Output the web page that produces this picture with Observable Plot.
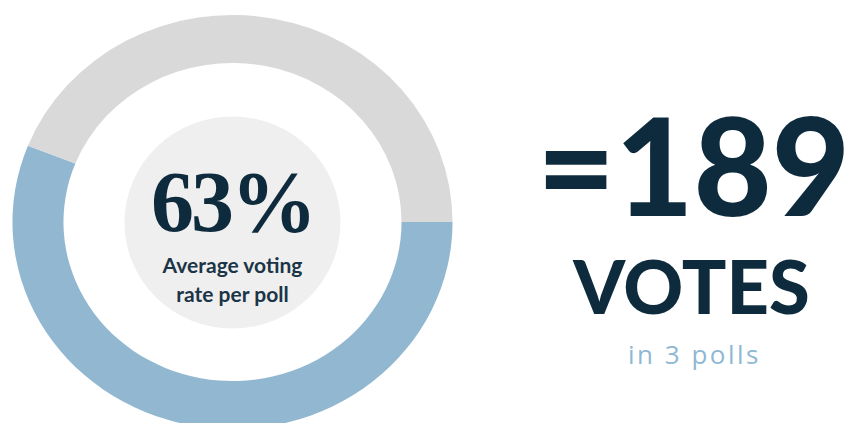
<!DOCTYPE html>
<html><head><meta charset="utf-8">
<script src="https://cdn.jsdelivr.net/npm/d3@7"></script>
<script src="https://cdn.jsdelivr.net/npm/@observablehq/plot@0.6"></script>
<style>html,body{margin:0;padding:0;background:#fff;overflow:hidden}</style>
</head><body><div id="chart"></div>
<script>
// Data
const segments = ["Voted", "Not voted"];
const shares = [56, 44];            // arc shares as drawn in the ring
const ringColors = ["#92b8d1", "#d9d9d9"];
const rateLabel = ["63%"];
const rateCaption = ["Average voting\nrate per poll"];
const totalLabel = ["=189"];
const unitLabel = ["VOTES"];
const pollsLabel = ["in 3 polls"];

const navy = "#0e2b3d";
const cx = 232.5, cy = 222, sx = 1.063;

function donut(index, scales, values, dims) {
  const color = d3.scaleOrdinal(segments, ringColors);
  const pie = d3.pie().sort(null).value(d => d.v)
    .startAngle(Math.PI / 2).endAngle(Math.PI / 2 + 2 * Math.PI);
  const arc = d3.arc().innerRadius(159).outerRadius(207);
  const rows = segments.map((s, i) => ({s, v: shares[i]}));
  const g = d3.create("svg:g");
  g.append("g")
    .attr("transform", `translate(${cx},${cy}) scale(${sx},1)`)
    .selectAll("path").data(pie(rows)).join("path")
    .attr("d", arc).attr("fill", d => color(d.data.s));
  g.append("ellipse")
    .attr("cx", cx).attr("cy", cy + 0.5).attr("rx", 108).attr("ry", 106)
    .attr("fill", "#efefef");
  return g.node();
}

const plot = Plot.plot({
  width: 856, height: 423, margin: 0,
  style: {background: "#fff"},
  marks: [
    donut,
    Plot.text(rateLabel, {text: d => d, frameAnchor: "top-left", dx: 232, dy: 230,
      lineAnchor: "bottom", textAnchor: "middle", fontSize: 86, fontWeight: "bold",
      fontFamily: "Liberation Serif", fill: navy}),
    Plot.text(rateCaption, {text: d => d, frameAnchor: "top-left", dx: 232, dy: 301,
      lineAnchor: "bottom", textAnchor: "middle", fontSize: 21, fontWeight: 700, lineHeight: 1.35,
      fontFamily: "Lato", fill: "#1b3547"}),
    Plot.text(totalLabel, {text: d => d, frameAnchor: "top-left", dx: 693, dy: 215,
      lineAnchor: "bottom", textAnchor: "middle", fontSize: 135, fontWeight: 900,
      fontFamily: "Lato", fill: navy}),
    Plot.text(unitLabel, {text: d => d, frameAnchor: "top-left", dx: 691, dy: 313,
      lineAnchor: "bottom", textAnchor: "middle", fontSize: 74, fontWeight: 900,
      fontFamily: "Lato", fill: navy}),
    Plot.text(pollsLabel, {text: d => d, frameAnchor: "top-left", dx: 694, dy: 363,
      lineAnchor: "bottom", textAnchor: "middle", fontSize: 26, fontWeight: 400,
      fontFamily: "Open Sans", fill: "#8fb8d4"})
  ]
});
d3.select(plot).selectAll("text").filter(function() { return this.textContent === "in 3 polls"; })
  .style("letter-spacing", "2.5px");
d3.select(plot).selectAll("text").filter(function() { return this.textContent === "63%"; })
  .style("letter-spacing", "-3px");
document.getElementById("chart").append(plot);
</script>
</body></html>
